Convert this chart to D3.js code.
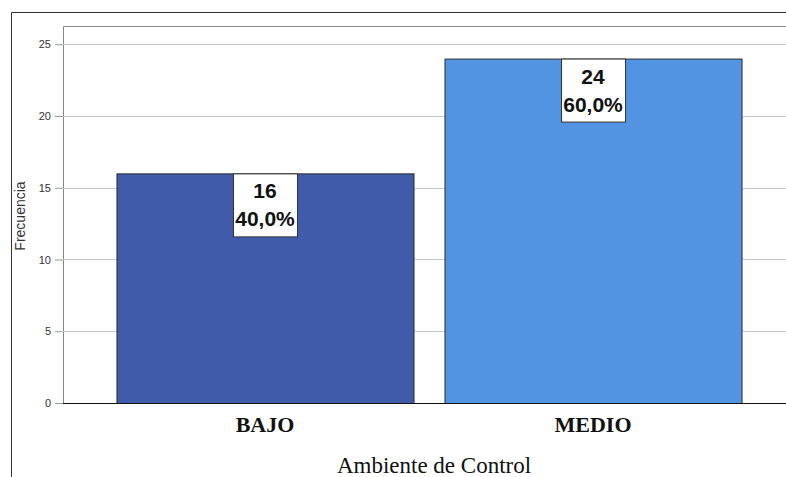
<!DOCTYPE html>
<html>
<head>
<meta charset="utf-8">
<script src="https://cdn.jsdelivr.net/npm/d3@7"></script>
<style>
  body { margin: 0; background: #fff; }
  svg { display: block; }
</style>
</head>
<body>
<svg id="chart" width="786" height="477"></svg>
<script>
// chart data
const categories = ["BAJO", "MEDIO"];
const counts = [16, 24];
const percents = ["40,0%", "60,0%"];
const barColors = ["#3F5BAA", "#5294E2"];
const yTicks = [0, 5, 10, 15, 20, 25];

const svg = d3.select("#chart");
const plot = { left: 63, top: 26, bottom: 403, right: 795 };

// outer frame (only left and top visible)
svg.append("path")
  .attr("d", "M11.5,477 V12.5 H786")
  .attr("fill", "none")
  .attr("stroke", "#333")
  .attr("stroke-width", 1);

const y = d3.scaleLinear().domain([0, 26.27]).range([plot.bottom, plot.top]);
const x = d3.scaleBand()
  .domain(categories)
  .range([plot.left, plot.right])
  .paddingInner(0.0945)
  .paddingOuter(0.163);

// plot box
svg.append("path")
  .attr("d", `M${plot.left + 0.5},${plot.bottom} V${plot.top + 0.5} H786`)
  .attr("fill", "none")
  .attr("stroke", "#888")
  .attr("stroke-width", 1);

// gridlines
svg.append("g")
  .selectAll("line")
  .data(yTicks.filter(d => d > 0))
  .join("line")
  .attr("x1", plot.left)
  .attr("x2", 786)
  .attr("y1", d => Math.round(y(d)) + 0.5)
  .attr("y2", d => Math.round(y(d)) + 0.5)
  .attr("stroke", "#c8c8c8");

// y axis ticks + labels
const yAxis = d3.axisLeft(y).tickValues(yTicks).tickSize(8).tickPadding(4);
const gy = svg.append("g")
  .attr("transform", `translate(${plot.left},0)`)
  .call(yAxis);
gy.select(".domain").remove();
gy.selectAll(".tick line").attr("stroke", "#999");
gy.selectAll(".tick text")
  .attr("font-family", "Liberation Sans, Arial, sans-serif")
  .attr("font-size", "11px")
  .attr("fill", "#333");

// bars
svg.append("g")
  .selectAll("rect")
  .data(categories)
  .join("rect")
  .attr("x", d => x(d) + 0.5)
  .attr("y", (d, i) => y(counts[i]) + 0.5)
  .attr("width", x.bandwidth())
  .attr("height", (d, i) => y(0) - y(counts[i]))
  .attr("fill", (d, i) => barColors[i])
  .attr("stroke", "#2a2a2a")
  .attr("stroke-width", 1);

// baseline
svg.append("line")
  .attr("x1", plot.left)
  .attr("x2", 786)
  .attr("y1", y(0) + 0.5)
  .attr("y2", y(0) + 0.5)
  .attr("stroke", "#111");

// value labels
const boxW = 64, boxH = 63;
const lab = svg.append("g")
  .selectAll("g")
  .data(categories)
  .join("g")
  .attr("transform", (d, i) =>
    `translate(${x(d) + x.bandwidth() / 2},${y(counts[i])})`);
lab.append("rect")
  .attr("x", -boxW / 2 + 0.5)
  .attr("y", 0.5)
  .attr("width", boxW)
  .attr("height", boxH)
  .attr("fill", "#fff")
  .attr("stroke", "#333");
lab.append("text")
  .text((d, i) => counts[i])
  .attr("y", 25)
  .attr("text-anchor", "middle")
  .attr("font-family", "Liberation Sans, Arial, sans-serif")
  .attr("font-weight", "bold")
  .attr("font-size", "21px")
  .attr("fill", "#111");
lab.append("text")
  .text((d, i) => percents[i])
  .attr("y", 53)
  .attr("text-anchor", "middle")
  .attr("font-family", "Liberation Sans, Arial, sans-serif")
  .attr("font-weight", "bold")
  .attr("font-size", "21px")
  .attr("fill", "#111");

// x category labels
svg.append("g")
  .selectAll("text")
  .data(categories)
  .join("text")
  .text(d => d)
  .attr("x", d => x(d) + x.bandwidth() / 2)
  .attr("y", 432)
  .attr("text-anchor", "middle")
  .attr("font-family", "Liberation Serif, Times New Roman, serif")
  .attr("font-weight", "bold")
  .attr("font-size", "22px")
  .attr("fill", "#111");

// axis titles
svg.append("text")
  .text("Ambiente de Control")
  .attr("x", 434)
  .attr("y", 473)
  .attr("text-anchor", "middle")
  .attr("font-family", "Liberation Serif, Times New Roman, serif")
  .attr("font-size", "23px")
  .attr("fill", "#111");

svg.append("text")
  .text("Frecuencia")
  .attr("transform", "translate(25,216) rotate(-90)")
  .attr("text-anchor", "middle")
  .attr("font-family", "Liberation Sans, Arial, sans-serif")
  .attr("font-size", "14px")
  .attr("fill", "#333");
</script>
</body>
</html>
